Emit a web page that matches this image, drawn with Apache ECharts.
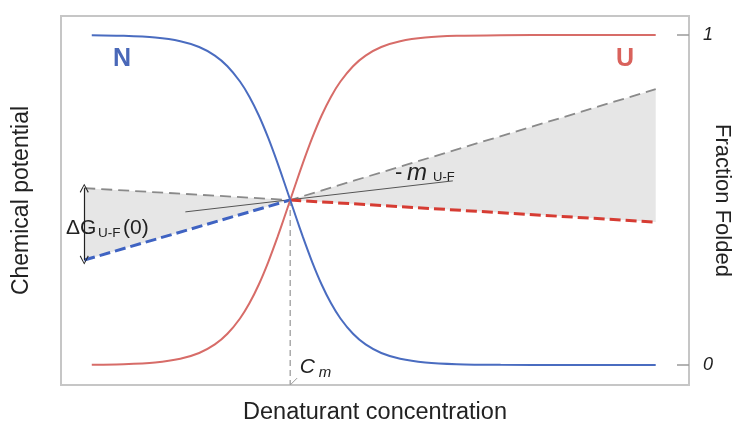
<!DOCTYPE html>
<html>
<head>
<meta charset="utf-8">
<script src="https://cdn.jsdelivr.net/npm/echarts@6/dist/echarts.min.js"></script>
<style>
  html, body { margin: 0; padding: 0; background: #fff; }
  #chart { width: 733px; height: 423px; }
</style>
</head>
<body>
<div id="chart"></div>
<script>
// Denaturant concentration (arbitrary units) at which the transition curves are sampled
const concentration = [0.49, 1.0, 1.5, 1.9, 2.2, 2.45, 2.65, 2.85, 3.0, 3.15, 3.3, 3.45, 3.55, 3.65,
                       3.75, 3.85, 4.0, 4.15, 4.3, 4.45, 4.65, 4.85, 5.1, 5.4, 5.8, 6.3, 7.0, 8.0, 9.47];
// Fraction of protein in the native state (N)
const fractionNative = [0.9992, 0.9975, 0.9923, 0.9812, 0.9637, 0.9377, 0.9055, 0.859, 0.813, 0.756, 0.688, 0.611, 0.556, 0.5,
                        0.444, 0.389, 0.312, 0.244, 0.187, 0.141, 0.0945, 0.0623, 0.0363, 0.0188, 0.0077, 0.0025, 0.0005, 0, 0];
// Fraction of protein in the unfolded state (U)
const fractionUnfolded = [0.0008, 0.0025, 0.0077, 0.0188, 0.0363, 0.0623, 0.0945, 0.141, 0.187, 0.244, 0.312, 0.389, 0.444, 0.5,
                          0.556, 0.611, 0.688, 0.756, 0.813, 0.859, 0.9055, 0.9377, 0.9637, 0.9812, 0.9923, 0.9975, 0.9995, 1, 1];

// Chemical potential lines (arbitrary units); they meet at the midpoint Cm
const midpointCm = 3.65;
const potentialX = [0.37, 3.65, 9.47];
const potentialUpper = [0.536, 0.5, 0.836];
const potentialLower = [0.318, 0.5, 0.433];
// Slope line, -m(U-F)
const slopeX = [1.98, 6.24];
const slopeY = [0.464, 0.558];
// Right axis ticks
const fractionTicks = [0, 1];

const FONT = '"Liberation Sans", Arial, sans-serif';
const Y_MIN = -0.0606, Y_MAX = 1.0576;

const zip = (xs, ys) => xs.map((x, i) => [x, ys[i]]);

const chart = echarts.init(document.getElementById('chart'), null, { renderer: 'canvas' });

const arrowHead = 'path://M0,10 L5,0 L10,10 L9,10.8 L5,2.2 L1,10.8 Z';

const option = {
  animation: false,
  backgroundColor: '#fff',
  textStyle: { fontFamily: FONT },
  grid: {
    left: 61, right: 44, top: 16, bottom: 38,
    outerBoundsMode: 'none', containLabel: false,
    show: true, borderColor: '#c6c6c6', borderWidth: 2, backgroundColor: 'transparent'
  },
  xAxis: {
    type: 'value', min: 0, max: 10,
    name: 'Denaturant concentration', nameLocation: 'middle', nameGap: 16,
    nameTextStyle: { fontSize: 23.5, color: '#222', fontFamily: FONT },
    axisLine: { show: false }, axisTick: { show: false },
    axisLabel: { show: false }, splitLine: { show: false }
  },
  yAxis: [
    {
      type: 'value', position: 'left', min: Y_MIN, max: Y_MAX,
      name: 'Chemical potential', nameLocation: 'middle', nameRotate: 90, nameGap: 28,
      nameTextStyle: { fontSize: 23, color: '#222', fontFamily: FONT },
      axisLine: { show: false }, axisTick: { show: false },
      axisLabel: { show: false }, splitLine: { show: false }
    },
    {
      type: 'value', position: 'right', min: Y_MIN, max: Y_MAX,
      name: 'Fraction Folded', nameLocation: 'middle', nameRotate: -90, nameGap: 22,
      nameMoveOverlap: false,
      nameTextStyle: { fontSize: 22, color: '#222', fontFamily: FONT },
      axisLine: { show: false },
      axisTick: { show: true, inside: true, length: 12, customValues: fractionTicks,
                  lineStyle: { color: '#9a9a9a', width: 1.5 } },
      axisLabel: { show: true, customValues: fractionTicks, margin: 14,
                   fontSize: 18, fontStyle: 'italic', color: '#222', fontFamily: FONT },
      splitLine: { show: false }
    }
  ],
  series: [
    // shaded region between the chemical potential lines
    {
      type: 'custom', yAxisIndex: 0, silent: true, z: 1,
      data: [[potentialX[0], potentialLower[0]]],
      renderItem: (params, api) => {
        const upper = potentialX.map((x, i) => api.coord([x, potentialUpper[i]]));
        const lower = potentialX.map((x, i) => api.coord([x, potentialLower[i]])).reverse();
        return { type: 'polygon', shape: { points: upper.concat(lower) }, style: { fill: '#e6e6e6' } };
      }
    },
    // upper dashed gray line
    {
      type: 'line', yAxisIndex: 0, symbol: 'none', silent: true, z: 3,
      data: zip(potentialX, potentialUpper),
      lineStyle: { color: '#8a8a8a', width: 1.8, type: [11, 6] }
    },
    // native side (blue dashed) with the double arrow for ΔG(0)
    {
      type: 'line', yAxisIndex: 0, symbol: 'none', silent: true, z: 4,
      data: zip(potentialX.slice(0, 2), potentialLower.slice(0, 2)),
      lineStyle: { color: '#3f63c2', width: 3, type: [11, 5] },
      markLine: {
        silent: true, animation: false,
        symbol: [arrowHead, arrowHead],
        symbolSize: [9, 9],
        label: { show: false },
        lineStyle: { color: '#222', width: 1.2, type: 'solid' },
        data: [[
          { coord: [potentialX[0], potentialUpper[0]] },
          { coord: [potentialX[0], potentialLower[0]] }
        ]]
      }
    },
    // unfolded side (red dashed)
    {
      type: 'line', yAxisIndex: 0, symbol: 'none', silent: true, z: 4,
      data: zip(potentialX.slice(1), potentialLower.slice(1)),
      lineStyle: { color: '#d63c33', width: 3, type: [11, 5] }
    },
    // thin slope line
    {
      type: 'line', yAxisIndex: 0, symbol: 'none', silent: true, z: 3,
      data: zip(slopeX, slopeY),
      lineStyle: { color: '#555', width: 1 }
    },
    // vertical dashed line at Cm
    {
      type: 'line', yAxisIndex: 0, symbol: 'none', silent: true, z: 2,
      data: [[midpointCm, 0.5], [midpointCm, Y_MIN]],
      lineStyle: { color: '#aaaaaa', width: 1.5, type: [6, 4] }
    },
    // small leader for the Cm label
    {
      type: 'line', yAxisIndex: 0, symbol: 'none', silent: true, z: 2,
      data: [[midpointCm, Y_MIN], [midpointCm + 0.11, Y_MIN + 0.021]],
      lineStyle: { color: '#999', width: 1 }
    },
    // transition curves
    {
      type: 'line', yAxisIndex: 1, symbol: 'none', smooth: 0.2, z: 5,
      data: zip(concentration, fractionUnfolded),
      lineStyle: { color: '#d76c68', width: 2 }
    },
    {
      type: 'line', yAxisIndex: 1, symbol: 'none', smooth: 0.2, z: 6,
      data: zip(concentration, fractionNative),
      lineStyle: { color: '#4a6cc0', width: 2 }
    }
  ]
};

chart.setOption(option);

// Text annotations anchored in data coordinates
const px = (x, y) => chart.convertToPixel({ xAxisIndex: 0, yAxisIndex: 0 }, [x, y]);
const txt = (p, dx, dy, text, font, fill, align) => ({
  type: 'text', silent: true, z: 20,
  x: p[0] + dx, y: p[1] + dy,
  style: { text, font, fill: fill || '#222', align: align || 'left', verticalAlign: 'middle' }
});

const pN = px(0.97, 0.927);
const pU = px(8.98, 0.927);
const pG = px(0.08, 0.415);
const pM = px(5.32, 0.582);
const pC = px(3.80, -0.006);

chart.setOption({
  graphic: [
    txt(pN, 0, 0, 'N', 'bold 25px ' + FONT, '#4a68b8', 'center'),
    txt(pU, 0, 0, 'U', 'bold 25px ' + FONT, '#d9625c', 'center'),
    txt(pG, 0, 0, 'ΔG', '21px ' + FONT),
    txt(pG, 32, 5, 'U-F', '13.5px ' + FONT),
    txt(pG, 57, 0, '(0)', '21px ' + FONT),
    txt(pM, 0, 0, '-', '22px ' + FONT),
    txt(pM, 12, 0, 'm', 'italic 24px ' + FONT),
    txt(pM, 38, 4, 'U-F', '13px ' + FONT),
    txt(pC, 0, 0, 'C', 'italic 21px ' + FONT),
    txt(pC, 19, 6, 'm', 'italic 15px ' + FONT)
  ]
});
</script>
</body>
</html>
